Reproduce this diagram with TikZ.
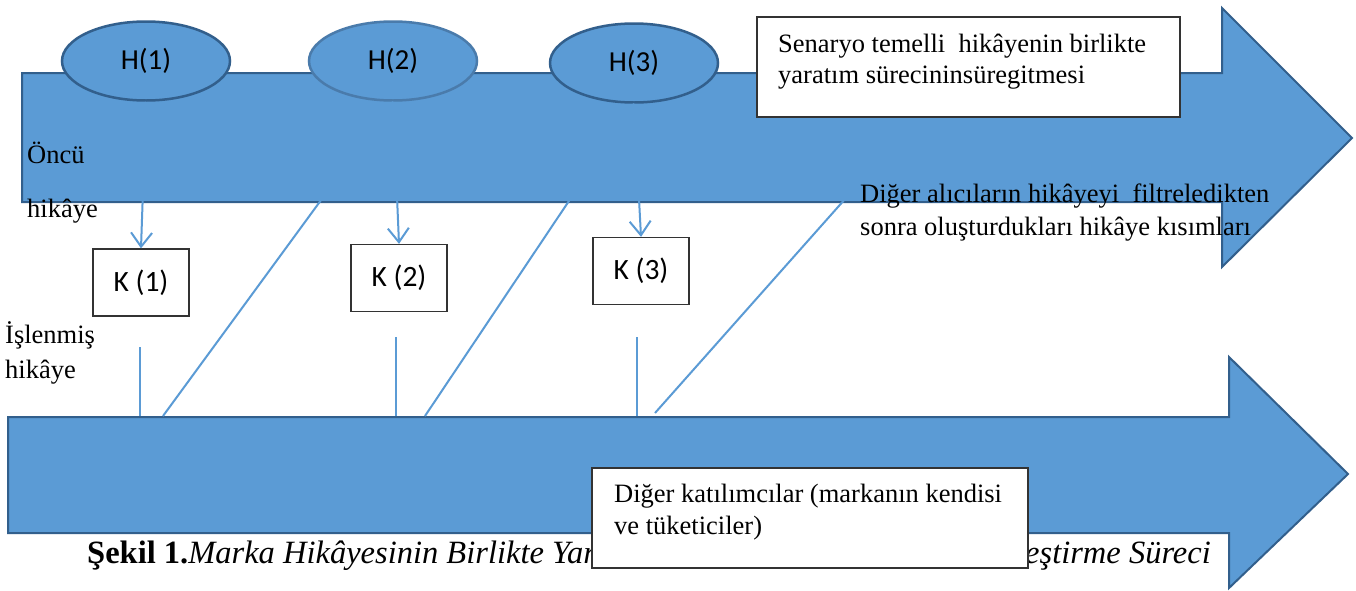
\documentclass[tikz,border=0pt]{standalone}
\usepackage{fontspec}
\setmainfont{Liberation Serif}
\newfontfamily\calibrifont{Carlito}
\usetikzlibrary{shapes.geometric,arrows.meta}
\definecolor{bodyblue}{HTML}{5B9BD5}
\definecolor{edgeblue}{HTML}{325F8C}
\definecolor{edgelight}{HTML}{4A7BAB}
\definecolor{linkblue}{HTML}{5B9BD5}
\definecolor{boxedge}{HTML}{333333}
\tikzset{
 bigarrow/.style={fill=bodyblue,draw=edgeblue,line width=2pt,line join=miter},
 hnode/.style={ellipse,fill=bodyblue,draw=edgeblue,line width=2.5pt,minimum width=168pt,minimum height=79pt,inner sep=0pt,font=\calibrifont\fontsize{29}{34}\selectfont},
 kbox/.style={rectangle,fill=white,draw=boxedge,line width=1.3pt,minimum width=96pt,minimum height=67pt,inner sep=0pt,font=\calibrifont\fontsize{29.5}{34}\selectfont},
 wbox/.style={rectangle,fill=white,draw=boxedge,line width=1.3pt,inner sep=0pt},
 txt/.style={anchor=base west,inner sep=0pt,font=\fontsize{26.5}{32}\selectfont},
 captxt/.style={inner sep=0pt,font=\fontsize{32.5}{38}\selectfont},
 link/.style={draw=linkblue,line width=2pt},
 linkarrow/.style={link,-{Straight Barb[length=14pt,width=21pt]}},
}
\begin{document}
\begin{tikzpicture}[x=1pt,y=-1pt]
\useasboundingbox (0,0) rectangle (1356,590);
\fill[white] (0,0) rectangle (1356,590);
% big arrows
\draw[bigarrow] (22,73) -- (1222,73) -- (1222,8) -- (1352,138) -- (1222,267) -- (1222,202) -- (22,202) -- cycle;
\draw[bigarrow] (8,417) -- (1229,417) -- (1229,357) -- (1348,474) -- (1229,588) -- (1229,533) -- (8,533) -- cycle;
% ellipses
\node[hnode] (H1) at (146,61) {H(1)};
\node[hnode,draw=edgelight] (H2) at (393,61) {H(2)};
\node[hnode] (H3) at (634,63) {H(3)};
% top text box
\node[wbox,minimum width=423pt,minimum height=100pt] (S) at (968.5,67) {};
\node[txt] (s1) at (778,52) {Senaryo temelli\ \ hikâyenin birlikte};
\node[txt] (s2) at (778,83) {yaratım sürecininsüregitmesi};
% K boxes
\node[kbox] (K1) at (141,282.5) {K (1)};
\node[kbox] (K2) at (399,278) {K (2)};
\node[kbox] (K3) at (641,271) {K (3)};
% coordinates
\coordinate (b1) at (163,416);
\coordinate (b2) at (425,416);
\coordinate (b3) at (655,413);
\coordinate (u1) at (140,347);
\coordinate (u2) at (396,337);
\coordinate (u3) at (637,337);
\coordinate (d1) at (140,416);
\coordinate (d2) at (396,416);
\coordinate (d3) at (637,416);
\coordinate (send) at (917,118);
% links
\draw[linkarrow] (H1.south) -- (K1.north);
\draw[linkarrow] (H2.south) -- (K2.north);
\draw[linkarrow] (H3.south) -- (K3.north);
\draw[link] (b1) -- (H2.south);
\draw[link] (b2) -- (H3.south);
\draw[linkarrow] (b3) -- (send);
\draw[link] (u1) -- (d1);
\draw[link] (u2) -- (d2);
\draw[link] (u3) -- (d3);
% side texts
\node[txt] (o1) at (27,163) {Öncü};
\node[txt] (o2) at (27,217) {hikâye};
\node[txt] (i1) at (5,343) {İşlenmiş};
\node[txt] (i2) at (5,378) {hikâye};
\node[txt] (a1) at (860,202) {Diğer alıcıların hikâyeyi\ \ filtreledikten};
\node[txt] (a2) at (860,235) {sonra oluşturdukları hikâye kısımları};
% caption
\node[captxt,anchor=base west] (c1) at (87,563) {\textbf{Şekil 1.}\textit{Marka Hikâyesinin Birlikte Yar}};
\node[captxt,anchor=base east] (c2) at (1211,563) {\textit{eştirme Süreci}};
% bottom text box
\node[wbox,minimum width=436pt,minimum height=100pt] (D) at (810,518) {};
\node[txt] (d1t) at (614,502) {Diğer katılımcılar (markanın kendisi};
\node[txt] (d2t) at (614,534) {ve tüketiciler)};
\end{tikzpicture}
\end{document}
